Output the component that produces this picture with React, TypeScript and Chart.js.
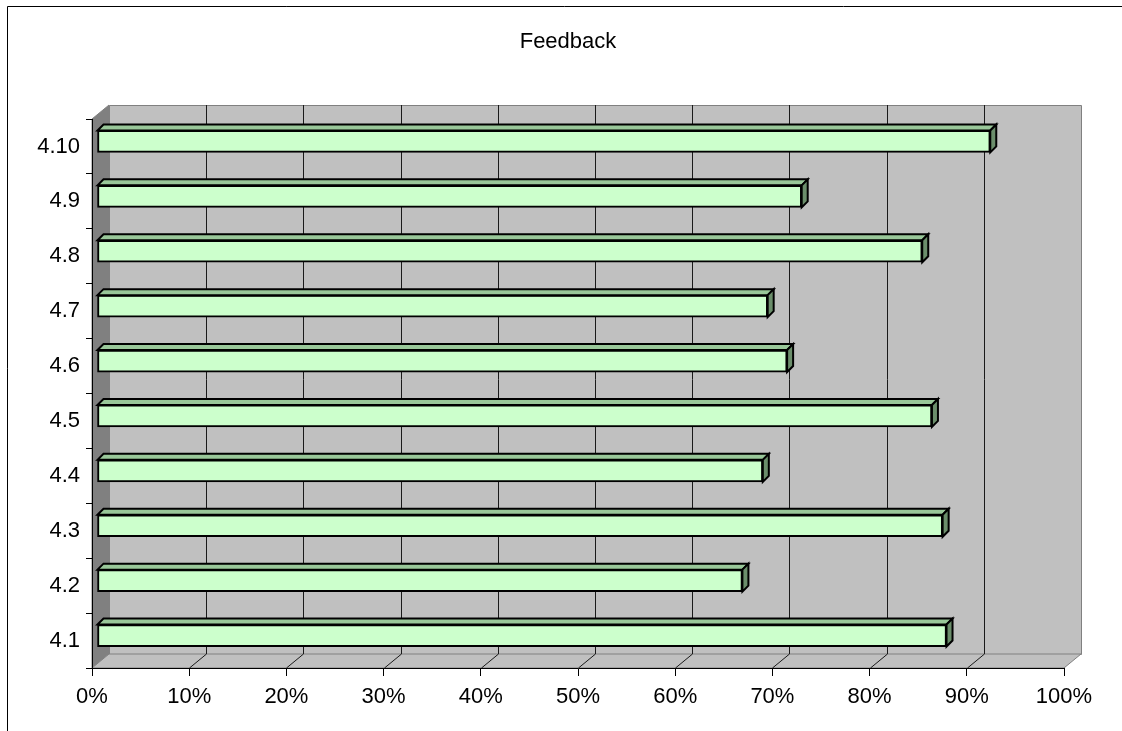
import React, { useEffect, useRef } from "react";
import { Chart, registerables } from "chart.js";

Chart.register(...registerables);

const categories = ["4.1", "4.2", "4.3", "4.4", "4.5", "4.6", "4.7", "4.8", "4.9", "4.10"];
const values = [0.874, 0.664, 0.87, 0.685, 0.859, 0.71, 0.69, 0.849, 0.725, 0.919];
const xTickValues = [0, 0.1, 0.2, 0.3, 0.4, 0.5, 0.6, 0.7, 0.8, 0.9, 1.0];
const titleText = "Feedback";

const FONT = "'Liberation Sans', Arial, sans-serif";
const WALL_DX = 17;
const WALL_DY = 14;
const BAR_DX = 5;
const BAR_DY = 5;
const FACE_D = 6;

const wallsPlugin = {
  id: "walls3d",
  beforeDraw(chart: any) {
    const ctx = chart.ctx;
    const { left, right, top, bottom } = chart.chartArea;
    const xs = chart.scales.x;
    ctx.save();
    // outer border (left and top edges only visible)
    ctx.strokeStyle = "#000";
    ctx.lineWidth = 1;
    ctx.beginPath();
    ctx.moveTo(7.5, chart.height);
    ctx.lineTo(7.5, 6.5);
    ctx.lineTo(chart.width, 6.5);
    ctx.stroke();
    // back wall
    ctx.fillStyle = "#C0C0C0";
    ctx.strokeStyle = "#808080";
    ctx.beginPath();
    ctx.rect(left + WALL_DX + 0.5, top - WALL_DY + 0.5, right - left, bottom - top);
    ctx.fill();
    ctx.stroke();
    // side wall
    ctx.fillStyle = "#808080";
    ctx.beginPath();
    ctx.moveTo(left, top);
    ctx.lineTo(left + WALL_DX, top - WALL_DY);
    ctx.lineTo(left + WALL_DX, bottom - WALL_DY);
    ctx.lineTo(left, bottom);
    ctx.closePath();
    ctx.fill();
    ctx.stroke();
    // floor
    ctx.fillStyle = "#C0C0C0";
    ctx.beginPath();
    ctx.moveTo(left, bottom);
    ctx.lineTo(left + WALL_DX, bottom - WALL_DY);
    ctx.lineTo(right + WALL_DX, bottom - WALL_DY);
    ctx.lineTo(right, bottom);
    ctx.closePath();
    ctx.fill();
    ctx.stroke();
    // gridlines
    ctx.strokeStyle = "#1a1a1a";
    ctx.lineWidth = 1;
    xTickValues.forEach((v) => {
      if (v <= 0 || v >= 1) return;
      const fx = Math.round(xs.getPixelForValue(v));
      ctx.beginPath();
      ctx.moveTo(fx + WALL_DX + 0.5, top - WALL_DY);
      ctx.lineTo(fx + WALL_DX + 0.5, bottom - WALL_DY);
      ctx.lineTo(fx + 0.5, bottom);
      ctx.stroke();
    });
    // title
    ctx.fillStyle = "#000";
    ctx.font = `22px ${FONT}`;
    ctx.textAlign = "center";
    ctx.textBaseline = "middle";
    ctx.fillText(titleText, 568, 42);
    ctx.restore();
  },
  beforeDatasetsDraw(chart: any) {
    chart.ctx.save();
    chart.ctx.translate(BAR_DX, -BAR_DY);
  },
  afterDatasetsDraw(chart: any) {
    const ctx = chart.ctx;
    const meta = chart.getDatasetMeta(0);
    ctx.lineWidth = 2;
    ctx.strokeStyle = "#000";
    ctx.lineJoin = "miter";
    meta.data.forEach((el: any) => {
      const p = el.getProps(["x", "y", "base", "height"], true);
      const t = p.y - p.height / 2;
      const b = p.y + p.height / 2;
      // top face
      ctx.fillStyle = "#99C799";
      ctx.beginPath();
      ctx.moveTo(p.base, t);
      ctx.lineTo(p.base + FACE_D, t - FACE_D);
      ctx.lineTo(p.x + FACE_D, t - FACE_D);
      ctx.lineTo(p.x, t);
      ctx.closePath();
      ctx.fill();
      ctx.stroke();
      // end face
      ctx.fillStyle = "#6B8E6B";
      ctx.beginPath();
      ctx.moveTo(p.x, t);
      ctx.lineTo(p.x + FACE_D, t - FACE_D);
      ctx.lineTo(p.x + FACE_D, b - FACE_D);
      ctx.lineTo(p.x, b);
      ctx.closePath();
      ctx.fill();
      ctx.stroke();
    });
    ctx.restore();
  },
};

export default function App() {
  const ref = useRef<HTMLCanvasElement | null>(null);
  useEffect(() => {
    if (!ref.current) return;
    const chart = new Chart(ref.current, {
      type: "bar",
      data: {
        labels: categories,
        datasets: [
          {
            data: values,
            backgroundColor: "#CCFFCC",
            borderColor: "#000",
            borderWidth: 2,
            borderSkipped: false,
            barThickness: 22,
          },
        ],
      },
      options: {
        indexAxis: "y",
        responsive: false,
        animation: false,
        events: [],
        layout: { padding: { left: 0, top: 119, right: 58, bottom: 0 } },
        plugins: { legend: { display: false }, title: { display: false }, tooltip: { enabled: false } },
        scales: {
          y: {
            type: "category",
            reverse: true,
            afterFit: (s: any) => {
              s.width = 92;
            },
            grid: { drawOnChartArea: false, tickLength: 6, color: "#000", offset: true },
            border: { color: "#000", width: 1 },
            ticks: { font: { family: FONT, size: 22 }, color: "#000", padding: 6 },
          },
          x: {
            type: "linear",
            min: 0,
            max: 1,
            afterFit: (s: any) => {
              s.height = 63;
            },
            afterBuildTicks: (s: any) => {
              s.ticks = xTickValues.map((v) => ({ value: v }));
            },
            grid: { drawOnChartArea: false, tickLength: 8, color: "#000" },
            border: { color: "#000", width: 1 },
            ticks: {
              font: { family: FONT, size: 22 },
              color: "#000",
              padding: 8,
              maxRotation: 0,
              autoSkip: false,
              callback: (v: any) => `${Math.round(Number(v) * 100)}%`,
            },
          },
        },
      },
      plugins: [wallsPlugin],
    });
    return () => chart.destroy();
  }, []);
  return (
    <div style={{ position: "absolute", left: 0, top: 0, width: 1122, height: 731, background: "#fff" }}>
      <canvas ref={ref} width={1122} height={731} style={{ width: 1122, height: 731, display: "block" }} />
    </div>
  );
}
